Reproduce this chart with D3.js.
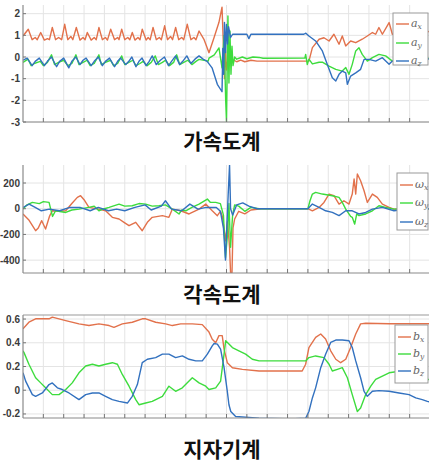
<!DOCTYPE html>
<html><head><meta charset="utf-8">
<script src="https://cdn.jsdelivr.net/npm/d3@7"></script>
<style>html,body{margin:0;padding:0;background:#fff;overflow:hidden}svg{display:block}</style>
</head><body><svg id="c" width="429" height="463"></svg>
<script>
// ---------- data (time in s, values in sensor units) ----------
const xTicks = [1,2,3,4,5,6,7,8,9,10,11,12,13,14,15,16,17,18,19];
const accTicks = [-3,-2,-1,0,1,2];
const gyroTicks = [-400,-200,0,200];
const magTicks = [-0.2,0,0.2,0.4,0.6];
const magTickLabels = ["-0.2","0","0.2","0.4","0.6"];
const titles = ["가속도계","각속도계","지자기계"];
const legendSyms = ["a","ω","b"];
const axisNames = ["x","y","z"];

const accX = [[0,0.97],[0.26,1.28],[0.45,0.8],[0.6,0.9],[0.7,0.8],[0.87,1.13],[1.05,0.78],[1.2,0.85],[1.3,0.8],[1.44,1.36],[1.6,0.8],[1.75,0.9],[1.9,0.8],[2.05,1.51],[2.2,0.8],[2.35,0.95],[2.45,0.8],[2.62,1.36],[2.8,0.78],[2.95,0.9],[3.05,0.8],[3.16,1.13],[3.35,0.78],[3.5,0.9],[3.6,0.8],[3.73,1.36],[3.9,0.8],[4.05,0.9],[4.15,0.78],[4.31,1.28],[4.5,0.8],[4.65,0.9],[4.72,0.8],[4.85,1.28],[5.0,0.8],[5.15,0.9],[5.25,0.8],[5.37,1.13],[5.5,0.78],[5.65,0.9],[5.75,0.8],[5.86,1.28],[6.05,0.78],[6.15,0.9],[6.25,0.8],[6.39,1.36],[6.55,0.8],[6.7,0.9],[6.8,0.8],[6.96,1.44],[7.1,0.8],[7.25,0.95],[7.35,0.8],[7.5,1.36],[7.65,0.8],[7.8,0.9],[7.9,0.8],[8.07,1.51],[8.25,0.8],[8.4,0.9],[8.5,0.8],[8.65,1.2],[8.9,0.8],[9.14,0.2],[9.39,0.9],[9.63,1.6],[9.78,2.3],[9.85,0.5],[9.9,-1.0],[9.95,0.3],[10.0,-0.6],[10.1,0.1],[10.2,-0.3],[10.37,-0.15],[10.5,-0.22],[10.7,-0.14],[10.9,-0.22],[11.2,-0.15],[11.5,-0.19],[13.9,-0.19],[14.05,-0.19],[14.22,0.43],[14.55,0.82],[14.79,0.89],[15.04,0.74],[15.28,1.05],[15.53,0.59],[15.69,0.97],[15.86,0.51],[16.1,0.74],[16.35,0.66],[16.67,0.82],[16.92,0.97],[17.17,1.13],[17.33,1.05],[17.49,1.36],[17.66,1.05],[17.99,1.59],[18.15,1.05],[18.5,1.2],[18.8,1.0],[19.1,1.3],[19.4,1.1],[19.7,1.25],[20,1.15]];
const accY = [[0,-0.25],[0.25,-0.1],[0.4,-0.4],[0.55,-0.3],[0.85,-0.2],[1.0,-0.4],[1.2,-0.25],[1.4,0.1],[1.55,-0.35],[1.75,-0.25],[2.0,-0.15],[2.2,-0.4],[2.4,-0.3],[2.6,0.1],[2.75,-0.35],[2.95,-0.25],[3.15,-0.15],[3.3,-0.4],[3.5,-0.3],[3.73,0.1],[3.85,-0.35],[4.05,-0.25],[4.3,-0.15],[4.45,-0.4],[4.65,-0.3],[4.85,0.05],[5.0,-0.35],[5.2,-0.25],[5.4,-0.15],[5.55,-0.4],[5.75,-0.3],[5.9,-0.2],[6.1,-0.4],[6.3,-0.25],[6.5,0.05],[6.65,-0.35],[6.85,-0.25],[7.0,-0.15],[7.2,-0.4],[7.4,-0.25],[7.55,0.1],[7.7,-0.35],[7.9,-0.25],[8.1,-0.15],[8.3,-0.35],[8.5,-0.2],[8.65,-0.11],[9.1,-0.19],[9.14,-0.05],[9.4,0.1],[9.63,0.42],[9.78,-0.5],[9.88,1.0],[9.96,-2.0],[10.0,-3.0],[10.07,1.9],[10.12,-1.2],[10.17,1.2],[10.22,-0.8],[10.27,0.5],[10.32,-0.4],[10.4,0.0],[10.5,-0.1],[10.78,0.0],[11.0,-0.08],[11.3,0.0],[11.6,-0.02],[11.8,-0.06],[13.85,-0.05],[13.89,0.12],[13.97,-0.35],[14.05,-0.1],[14.22,-0.32],[14.55,-0.24],[14.71,-0.24],[15.04,-0.42],[15.37,-0.57],[15.69,-0.65],[15.86,-0.49],[16.02,-0.8],[16.18,-0.34],[16.35,0.28],[16.51,0.43],[16.67,0.12],[16.92,-0.19],[17.17,-0.03],[17.49,0.12],[17.82,0.05],[18.15,-0.19],[18.6,-0.05],[19.2,0.0],[19.7,-0.1],[20,-0.05]];
const accZ = [[0,-0.15],[0.2,-0.05],[0.45,-0.4],[0.6,-0.2],[0.8,-0.05],[1.05,-0.4],[1.2,-0.2],[1.4,0.0],[1.65,-0.45],[1.8,-0.2],[2.0,-0.05],[2.25,-0.5],[2.4,-0.2],[2.6,0.0],[2.8,-0.35],[2.95,-0.15],[3.1,-0.05],[3.35,-0.4],[3.5,-0.2],[3.7,0.0],[3.9,-0.4],[4.05,-0.2],[4.25,-0.05],[4.5,-0.45],[4.65,-0.2],[4.8,-0.05],[5.05,-0.35],[5.2,-0.2],[5.35,0.0],[5.55,-0.45],[5.7,-0.2],[5.85,-0.05],[6.05,-0.4],[6.2,-0.2],[6.35,0.05],[6.55,-0.35],[6.75,-0.15],[6.95,0.0],[7.15,-0.4],[7.3,-0.2],[7.5,0.05],[7.7,-0.35],[7.85,-0.2],[8.05,0.05],[8.25,-0.3],[8.45,-0.1],[8.65,0.05],[8.85,-0.1],[9.05,-0.2],[9.29,-0.5],[9.55,-1.26],[9.71,-1.5],[9.78,-1.6],[9.82,0.4],[9.86,-0.8],[9.9,1.6],[9.95,0.2],[10.0,1.5],[10.05,0.6],[10.1,1.4],[10.2,0.9],[10.3,1.05],[11.0,1.05],[11.1,0.85],[11.2,1.05],[13.8,1.05],[13.9,1.1],[14.05,0.97],[14.38,0.74],[14.71,0.28],[14.95,-0.33],[15.2,-0.96],[15.37,-1.11],[15.53,-0.8],[15.69,-0.65],[15.86,-0.73],[15.94,-1.26],[16.1,-0.88],[16.35,-0.73],[16.59,-0.57],[16.76,-0.11],[17.0,-0.11],[17.33,-0.19],[17.66,-0.03],[17.99,-0.34],[18.15,-0.19],[18.5,-0.1],[19,-0.15],[19.5,-0.05],[20,-0.1]];

const gyroX = [[0,-41],[0.3,-90],[0.62,-171],[0.75,-150],[0.92,-93],[1.11,-158],[1.3,-60],[1.44,-16],[1.8,-20],[2.1,-16],[2.4,40],[2.67,88],[2.83,101],[3.0,70],[3.24,10],[3.73,-3],[4.06,-16],[4.39,-67],[4.72,-80],[5.0,-110],[5.21,-132],[5.54,-106],[5.86,-171],[6.11,-106],[6.35,-67],[6.85,-54],[7.17,-67],[7.34,-3],[7.75,-16],[8.16,-41],[8.65,-3],[8.98,36],[9.3,-16],[9.55,-54],[9.7,-20],[9.8,-60],[9.95,-250],[10.05,-100],[10.15,-300],[10.2,-500],[10.27,-500],[10.32,-150],[10.4,-80],[10.6,-20],[10.9,-40],[11.2,-10],[11.7,0],[14.0,0],[14.22,-16],[14.55,10],[14.79,49],[15.04,114],[15.28,101],[15.53,36],[15.77,62],[16.02,36],[16.18,114],[16.27,231],[16.35,114],[16.43,270],[16.59,218],[16.76,140],[16.92,49],[17.17,114],[17.41,88],[17.66,36],[17.99,10],[18.23,-3],[19,0],[20,0]];
const gyroY = [[0,-3],[0.2,30],[0.46,49],[0.8,40],[1.0,55],[1.28,49],[1.45,-60],[1.6,-16],[2.1,-29],[2.4,-10],[2.75,-3],[3.24,10],[3.5,20],[3.73,-16],[4.0,0],[4.23,10],[4.72,36],[5.0,20],[5.37,23],[5.7,40],[6.03,36],[6.35,20],[6.68,23],[7.0,30],[7.34,-3],[7.67,-41],[7.8,-10],[8.0,-16],[8.3,10],[8.65,36],[9.06,75],[9.2,50],[9.47,49],[9.7,40],[9.85,-50],[9.95,-380],[10.05,-200],[10.12,40],[10.2,-300],[10.3,-50],[10.4,30],[10.6,20],[10.9,-20],[11.2,10],[11.6,0],[14.0,0],[14.1,60],[14.22,114],[14.38,127],[14.71,114],[15.2,101],[15.53,88],[15.69,49],[15.86,-3],[16.1,-60],[16.18,-67],[16.3,-120],[16.4,-40],[16.51,-54],[16.84,-41],[17.17,-16],[17.49,23],[17.82,10],[18.23,-3],[19,0],[20,0]];
const gyroZ = [[0,10],[0.3,36],[0.6,10],[0.9,-16],[1.3,-3],[1.8,-16],[2.3,10],[2.8,10],[3.3,-16],[3.7,10],[4.2,-16],[4.6,-3],[5.0,-16],[5.5,10],[6.0,30],[6.3,-10],[6.8,20],[7.0,62],[7.3,-3],[7.8,-16],[8.2,36],[8.6,-3],[9.0,10],[9.5,10],[9.7,-20],[9.85,-150],[9.95,-400],[10.0,-200],[10.08,100],[10.15,340],[10.2,0],[10.3,-50],[10.5,30],[10.8,45],[11.1,20],[11.5,0],[14.0,0],[14.22,36],[14.55,10],[14.87,-16],[15.2,-29],[15.53,-54],[15.86,-16],[16.18,-16],[16.51,-41],[16.84,-29],[17.17,-3],[17.66,10],[18.23,-16],[19,0],[20,0]];

const magX = [[0,0.517],[0.29,0.573],[0.62,0.602],[1.28,0.602],[1.44,0.616],[2.1,0.587],[2.75,0.559],[3.24,0.545],[3.73,0.559],[4.23,0.545],[4.47,0.53],[4.88,0.559],[5.37,0.573],[5.86,0.602],[6.03,0.602],[6.52,0.573],[7.01,0.559],[7.34,0.545],[7.75,0.559],[8.32,0.559],[8.81,0.553],[9.14,0.49],[9.3,0.43],[9.47,0.40],[9.63,0.46],[9.79,0.46],[9.88,0.346],[9.96,0.289],[10.04,0.232],[10.29,0.19],[10.78,0.176],[11.6,0.162],[13.72,0.162],[13.89,0.219],[14.05,0.36],[14.38,0.445],[14.63,0.474],[14.87,0.431],[15.12,0.332],[15.37,0.261],[15.61,0.232],[15.86,0.261],[16.1,0.36],[16.35,0.474],[16.59,0.559],[16.84,0.564],[18,0.56],[19,0.56],[20,0.56]];
const magY = [[0,0.332],[0.05,0.317],[0.29,0.219],[0.62,0.105],[0.87,0.062],[1.11,0.02],[1.44,-0.037],[1.77,-0.037],[2.1,0.006],[2.42,0.062],[2.75,0.147],[3.08,0.204],[3.41,0.219],[3.73,0.204],[4.06,0.219],[4.39,0.232],[4.64,0.219],[4.88,0.133],[5.21,0.034],[5.54,-0.079],[5.7,-0.122],[6.03,-0.108],[6.35,-0.094],[6.85,-0.051],[7.17,0.034],[7.5,-0.009],[7.83,0.02],[8.16,0.077],[8.32,0.105],[8.65,0.062],[8.98,0.034],[9.14,0.006],[9.47,0.02],[9.71,0.077],[9.88,0.304],[9.96,0.417],[10.12,0.389],[10.29,0.36],[10.61,0.332],[10.94,0.304],[11.27,0.261],[11.6,0.247],[13.89,0.247],[14.05,0.275],[14.38,0.289],[14.79,0.275],[15.04,0.219],[15.2,0.162],[15.45,0.176],[15.69,0.19],[15.94,0.105],[16.18,-0.037],[16.43,-0.179],[16.59,-0.15],[16.84,-0.037],[17.09,0.034],[17.33,0.091],[17.66,0.119],[17.99,0.147],[18.5,0.16],[19.0,0.15],[19.62,0.119],[19.87,0.091],[20,0.09]];
const magZ = [[0,0.147],[0.13,0.077],[0.46,-0.037],[0.62,-0.051],[0.95,-0.023],[1.28,0.048],[1.44,0.062],[1.69,0.02],[1.93,0.006],[2.26,-0.023],[2.75,-0.079],[3.08,-0.037],[3.41,-0.023],[3.73,-0.023],[4.06,-0.051],[4.39,-0.079],[4.72,-0.094],[5.13,-0.108],[5.37,-0.051],[5.62,0.048],[5.86,0.232],[6.11,0.261],[6.52,0.275],[6.85,0.304],[7.17,0.304],[7.5,0.275],[7.83,0.289],[8.16,0.261],[8.49,0.247],[8.81,0.247],[9.06,0.304],[9.3,0.374],[9.39,0.394],[9.55,0.389],[9.71,0.346],[9.88,0.19],[10.04,-0.009],[10.12,-0.122],[10.21,-0.179],[10.45,-0.221],[11.6,-0.236],[13.23,-0.241],[13.89,-0.236],[14.05,-0.179],[14.22,-0.065],[14.38,0.02],[14.63,0.19],[14.87,0.304],[15.12,0.403],[15.37,0.423],[15.69,0.423],[16.02,0.417],[16.18,0.36],[16.35,0.247],[16.59,0.105],[16.76,-0.009],[16.92,-0.051],[17.17,-0.009],[17.49,-0.003],[17.99,-0.009],[18.48,-0.023],[18.97,-0.037],[19.3,-0.065],[19.62,-0.079],[19.87,-0.094],[20,-0.1]];

// ---------- drawing ----------
const colors = ["#e2714b","#3ddc3d","#3271bf"];
const svg = d3.select("#c");
const x = d3.scaleLinear().domain([0,20]).range([23,430]);

const panels = [
  {top:5,bottom:122,domain:[-3,2.4],ticks:accTicks,labels:accTicks.map(String),series:[accX,accY,accZ],sym:0,
   leg:{x:393,y:13,w:35,h:52,rows:[24,43,61]},ty:149,box:false},
  {top:165,bottom:273,domain:[-500,340],ticks:gyroTicks,labels:gyroTicks.map(String),series:[gyroX,gyroY,gyroZ],sym:1,
   leg:{x:397,y:173,w:31,h:57,rows:[185,203,222]},ty:302,box:false},
  {top:315,bottom:418,domain:[-0.234,0.634],ticks:magTicks,labels:magTickLabels,series:[magX,magY,magZ],sym:2,
   leg:{x:395,y:325,w:33,h:58,rows:[337,354,371]},ty:457,box:true}
];

const x0 = 23, x1 = 429;
panels.forEach((p,pi)=>{
  const y = d3.scaleLinear().domain(p.domain).range([p.bottom,p.top]);
  const g = svg.append("g");
  g.selectAll(".vg").data(xTicks).join("line")
    .attr("x1",d=>x(d)).attr("x2",d=>x(d)).attr("y1",p.top).attr("y2",p.bottom)
    .attr("stroke","#e4e4e4").attr("stroke-width",1);
  g.selectAll(".hg").data(p.ticks).join("line")
    .attr("x1",x0).attr("x2",x1).attr("y1",d=>y(d)).attr("y2",d=>y(d))
    .attr("stroke","#e4e4e4").attr("stroke-width",1);
  const cid = "clip"+pi;
  svg.append("clipPath").attr("id",cid).append("rect")
    .attr("x",x0).attr("y",p.top).attr("width",x1-x0).attr("height",p.bottom-p.top);
  const line = d3.line().x(d=>x(d[0])).y(d=>y(d[1]));
  const lg = g.append("g").attr("clip-path",`url(#${cid})`);
  p.series.forEach((s,i)=>{
    lg.append("path").datum(s).attr("d",line).attr("fill","none")
      .attr("stroke",colors[i]).attr("stroke-width",1.4).attr("stroke-linejoin","round");
  });
  if(p.box) g.append("line").attr("x1",x0).attr("x2",x1).attr("y1",p.top).attr("y2",p.top).attr("stroke","#999");
  g.append("line").attr("x1",x0).attr("x2",x0).attr("y1",p.top).attr("y2",p.bottom).attr("stroke","#8a8a8a").attr("stroke-width",1.2);
  g.append("line").attr("x1",x0).attr("x2",x1).attr("y1",p.bottom).attr("y2",p.bottom).attr("stroke","#8a8a8a").attr("stroke-width",1.2);
  g.selectAll(".xt").data(xTicks).join("line")
    .attr("x1",d=>x(d)).attr("x2",d=>x(d)).attr("y1",p.bottom).attr("y2",p.bottom-4)
    .attr("stroke","#777");
  g.selectAll(".yt").data(p.ticks).join("line")
    .attr("x1",x0).attr("x2",x0+3).attr("y1",d=>y(d)).attr("y2",d=>y(d)).attr("stroke","#777");
  g.selectAll(".yl").data(p.ticks).join("text")
    .attr("x",x0-3).attr("y",d=>y(d)).attr("dy","0.35em").attr("text-anchor","end")
    .attr("font-family","Liberation Sans, Arial, sans-serif").attr("font-weight","bold")
    .attr("font-size",10).attr("fill","#3a3a3a")
    .text((d,i)=>p.labels[i]);
  const L = p.leg;
  const lgd = g.append("g");
  lgd.append("rect").attr("x",L.x).attr("y",L.y).attr("width",L.w).attr("height",L.h)
    .attr("fill","#fff").attr("stroke","#9a9a9a").attr("stroke-width",1);
  L.rows.forEach((ry,i)=>{
    lgd.append("line").attr("x1",L.x+3).attr("x2",L.x+16).attr("y1",ry).attr("y2",ry)
      .attr("stroke",colors[i]).attr("stroke-width",1.4);
    const t = lgd.append("text").attr("x",L.x+18).attr("y",ry+3)
      .attr("font-family","DejaVu Serif, serif").attr("font-style","italic")
      .attr("font-size",11).attr("fill","#666");
    t.append("tspan").text(legendSyms[p.sym]);
    t.append("tspan").attr("font-size",7.5).attr("dy",2).text(axisNames[i]);
  });
  svg.append("text").attr("x",222).attr("y",p.ty).attr("text-anchor","middle")
    .attr("font-family","Noto Sans CJK KR, sans-serif").attr("font-weight","bold")
    .attr("font-size",21).attr("fill","#111").text(titles[pi]);
});
</script></body></html>
